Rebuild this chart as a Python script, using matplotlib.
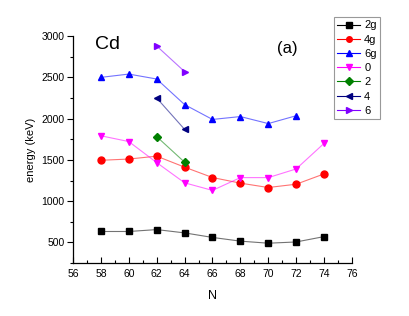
import numpy as np
import matplotlib.pyplot as plt
from matplotlib.ticker import MultipleLocator

plt.rcParams['font.family'] = ['Liberation Sans', 'DejaVu Sans']

# neutron number N and level energies (keV)
n_full = [58, 60, 62, 64, 66, 68, 70, 72, 74]
e_2g = [632, 632, 655, 615, 560, 515, 490, 505, 570]
e_4g = [1495, 1510, 1545, 1412, 1286, 1218, 1165, 1205, 1330]
n_6g = [58, 60, 62, 64, 66, 68, 70, 72]
e_6g = [2500, 2540, 2480, 2170, 1990, 2025, 1940, 2035]
e_0 = [1792, 1722, 1467, 1222, 1130, 1285, 1285, 1390, 1700]
n_short = [62, 64]
e_2 = [1782, 1472]
e_4 = [2250, 1870]
e_6 = [2880, 2570]

series = [
    ("2g", n_full, e_2g, "s", "black"),
    ("4g", n_full, e_4g, "o", "red"),
    ("6g", n_6g, e_6g, "^", "blue"),
    ("0", n_full, e_0, "v", "magenta"),
    ("2", n_short, e_2, "D", "green"),
    ("4", n_short, e_4, "<", "navy"),
    ("6", n_short, e_6, ">", "#8000ff"),
]

fig = plt.figure(figsize=(4.09, 3.16), dpi=100)
ax = fig.add_axes([0.1785, 0.1677, 0.682, 0.718])

handles = []
for name, xs, ys, mk, col in series:
    ms = 4.5 if mk == "D" else 5
    ax.plot(xs, ys, color=col, lw=0.8, alpha=0.55, zorder=2)
    ax.plot(xs, ys, ls="none", marker=mk, ms=ms, color=col, zorder=3)
    h, = ax.plot([], [], color=col, lw=0.8, marker=mk, ms=4, mfc=col, mec=col)
    handles.append(h)

ax.set_xlim(56, 76)
ax.set_ylim(250, 3000)
ax.xaxis.set_major_locator(MultipleLocator(2))
ax.xaxis.set_minor_locator(MultipleLocator(1))
ax.yaxis.set_major_locator(MultipleLocator(500))
ax.yaxis.set_minor_locator(MultipleLocator(250))
ax.tick_params(axis="x", which="major", direction="in", length=4, width=0.8, labelsize=7.5, pad=4)
ax.tick_params(axis="x", which="minor", direction="in", length=2.5, width=0.8)
ax.tick_params(axis="y", which="major", direction="out", length=4, width=0.8, labelsize=7.5, pad=2)
ax.tick_params(axis="y", which="minor", direction="out", length=2.5, width=0.8)

for side in ("top", "right"):
    ax.spines[side].set_visible(False)
for side in ("left", "bottom"):
    ax.spines[side].set_linewidth(0.9)

ax.set_xlabel("N", fontsize=9, labelpad=8)
ax.set_ylabel("energy (keV)", fontsize=8, labelpad=4)

ax.text(0.08, 1.0, "Cd", transform=ax.transAxes, fontsize=14, va="top")
ax.text(0.73, 0.98, "(a)", transform=ax.transAxes, fontsize=12, va="top")

leg = fig.legend(handles, [s[0] for s in series], loc="upper left",
                 bbox_to_anchor=(0.817, 0.946), fontsize=8, frameon=True,
                 fancybox=False, handlelength=2.0, handletextpad=0.4,
                 labelspacing=0.38, borderpad=0.3, borderaxespad=0)
leg.get_frame().set_edgecolor("gray")
leg.get_frame().set_linewidth(0.8)

fig.savefig("out.png", dpi=100)
